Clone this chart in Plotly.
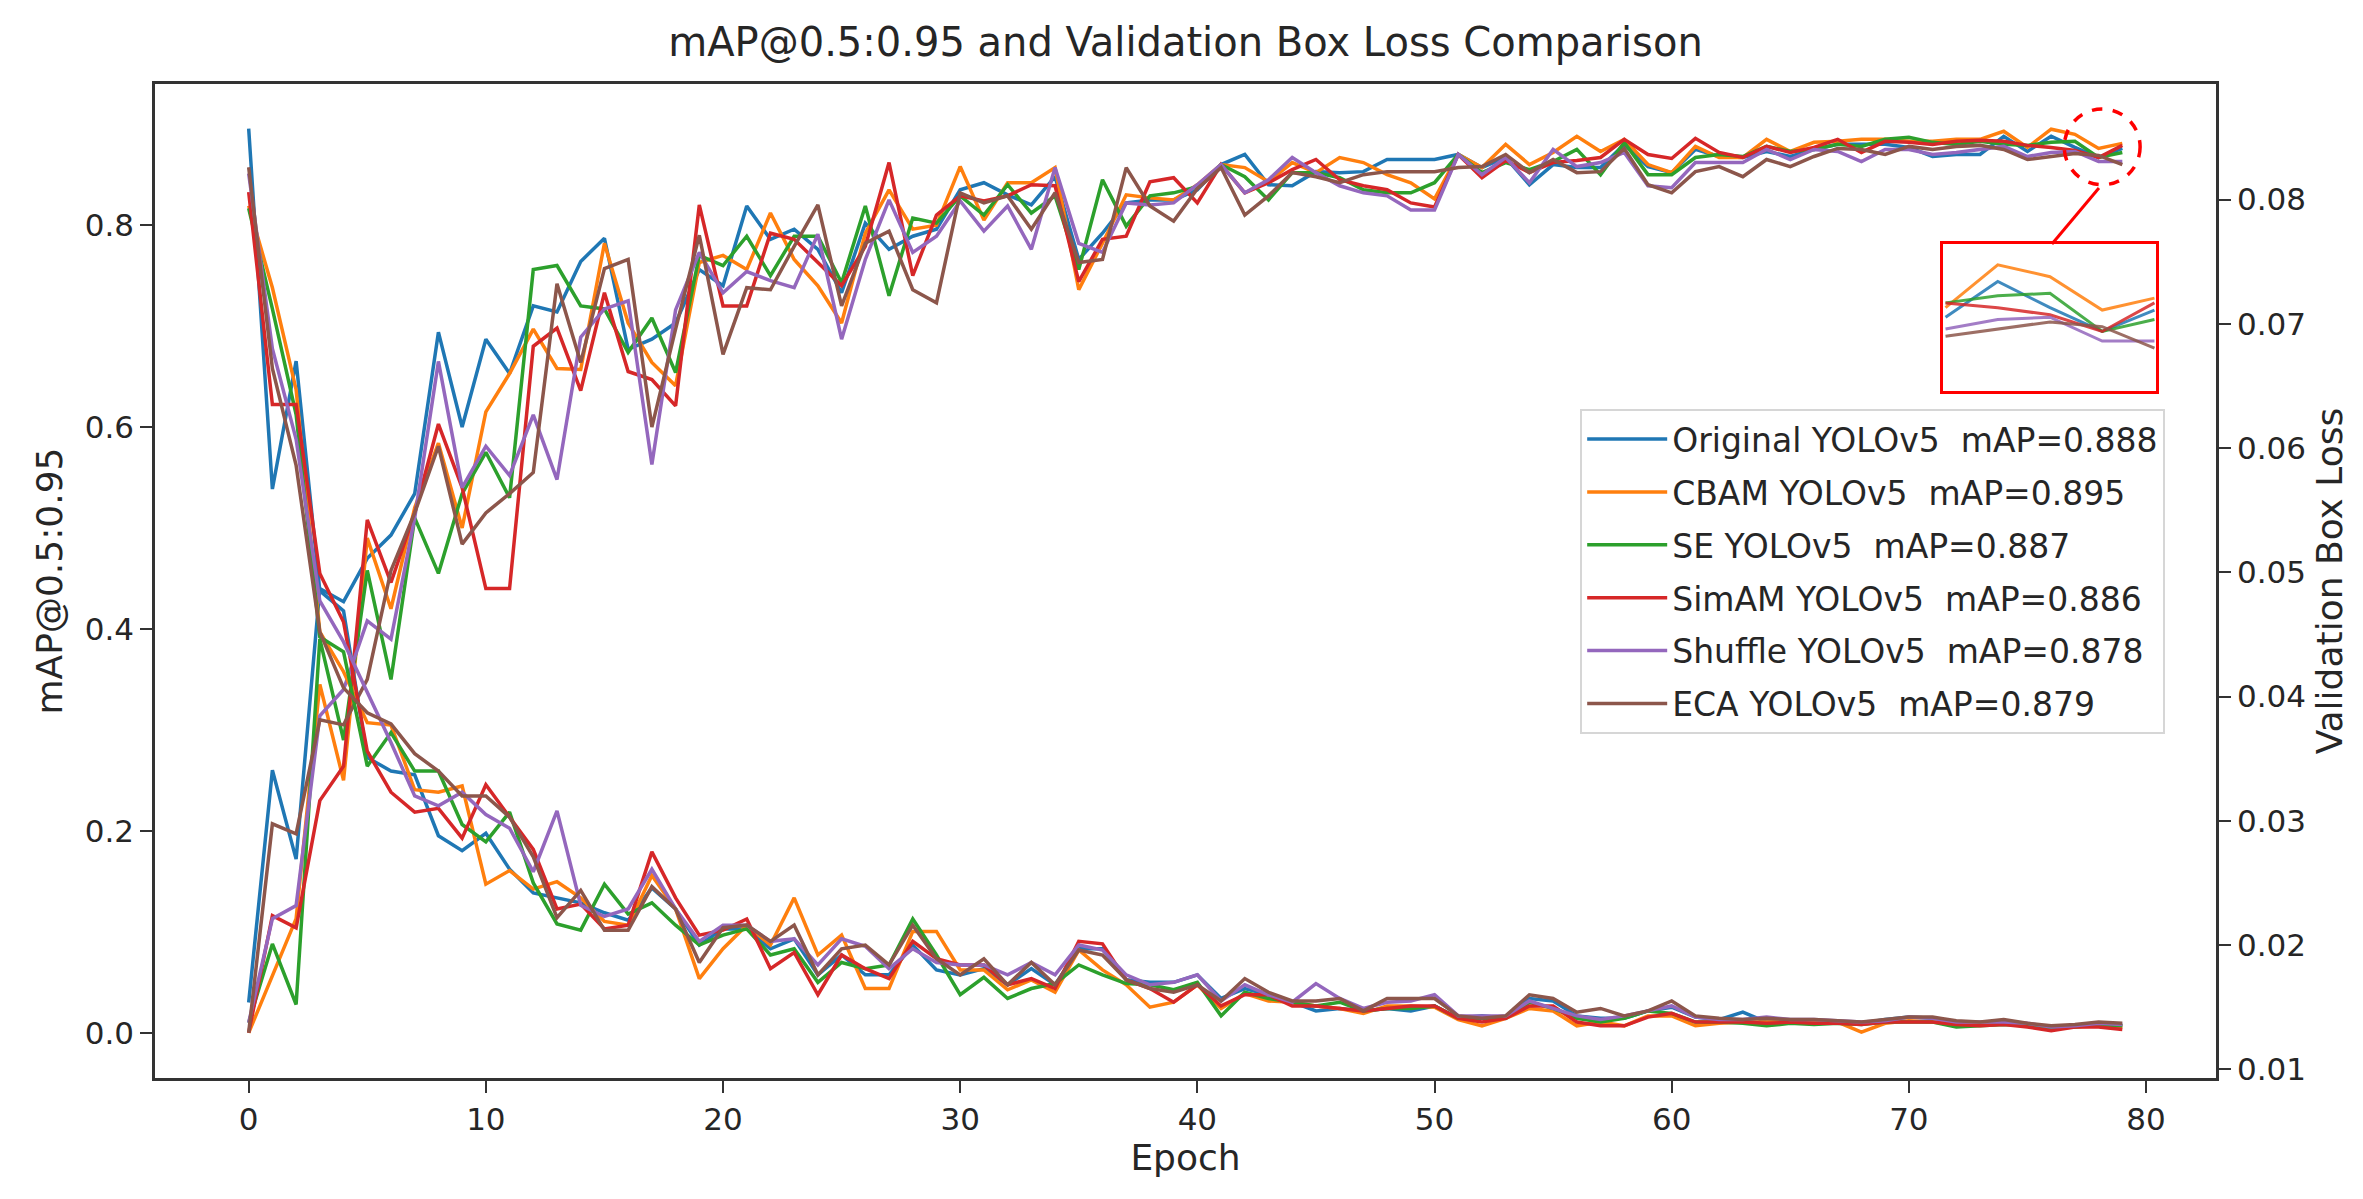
import plotly.graph_objects as go

EPOCHS = list(range(80))

MODEL_NAMES = ["Original YOLOv5", "CBAM YOLOv5", "SE YOLOv5", "SimAM YOLOv5", "Shuffle YOLOv5", "ECA YOLOv5"]
BEST_MAP = [0.888, 0.895, 0.887, 0.886, 0.878, 0.879]
COLORS = ["#1f77b4", "#ff7f0e", "#2ca02c", "#d62728", "#9467bd", "#8c564b"]

# mAP@0.5:0.95 per epoch (left axis)
MAP_ORIGINAL = [0.030, 0.260, 0.172, 0.440, 0.427, 0.470, 0.493, 0.534, 0.694, 0.600,
                0.687, 0.653, 0.720, 0.714, 0.764, 0.787, 0.677, 0.687, 0.703, 0.756,
                0.740, 0.819, 0.786, 0.796, 0.776, 0.733, 0.802, 0.776, 0.789, 0.796,
                0.835, 0.842, 0.830, 0.820, 0.848, 0.766, 0.792, 0.822, 0.825, 0.825,
                0.835, 0.860, 0.870, 0.840, 0.839, 0.853, 0.852, 0.853, 0.865, 0.865,
                0.865, 0.870, 0.857, 0.867, 0.840, 0.860, 0.857, 0.857, 0.880, 0.858,
                0.852, 0.875, 0.868, 0.867, 0.873, 0.868, 0.875, 0.880, 0.880, 0.880,
                0.877, 0.868, 0.870, 0.870, 0.888, 0.873, 0.888, 0.877, 0.867, 0.876]
MAP_CBAM = [0.000, 0.057, 0.113, 0.345, 0.250, 0.490, 0.420, 0.520, 0.584, 0.500,
            0.615, 0.653, 0.697, 0.658, 0.657, 0.782, 0.703, 0.664, 0.641, 0.763,
            0.770, 0.756, 0.812, 0.766, 0.740, 0.703, 0.792, 0.835, 0.796, 0.800,
            0.858, 0.805, 0.842, 0.842, 0.857, 0.736, 0.782, 0.830, 0.827, 0.825,
            0.840, 0.860, 0.857, 0.843, 0.862, 0.852, 0.867, 0.862, 0.850, 0.842,
            0.826, 0.870, 0.857, 0.880, 0.860, 0.872, 0.888, 0.873, 0.885, 0.860,
            0.852, 0.878, 0.867, 0.867, 0.885, 0.873, 0.882, 0.883, 0.885, 0.885,
            0.883, 0.883, 0.885, 0.885, 0.893, 0.877, 0.895, 0.890, 0.876, 0.881]
MAP_SE = [0.010, 0.088, 0.028, 0.390, 0.290, 0.458, 0.350, 0.510, 0.455, 0.534,
          0.575, 0.530, 0.756, 0.760, 0.720, 0.717, 0.674, 0.708, 0.654, 0.770,
          0.760, 0.789, 0.750, 0.789, 0.789, 0.743, 0.819, 0.730, 0.807, 0.802,
          0.829, 0.810, 0.840, 0.812, 0.829, 0.756, 0.845, 0.799, 0.829, 0.832,
          0.838, 0.860, 0.848, 0.825, 0.852, 0.852, 0.847, 0.835, 0.832, 0.832,
          0.842, 0.870, 0.852, 0.862, 0.855, 0.863, 0.875, 0.850, 0.882, 0.850,
          0.850, 0.867, 0.870, 0.868, 0.878, 0.873, 0.875, 0.880, 0.878, 0.885,
          0.887, 0.882, 0.880, 0.883, 0.880, 0.879, 0.882, 0.883, 0.867, 0.872]
MAP_SIMAM = [0.000, 0.116, 0.104, 0.230, 0.264, 0.508, 0.446, 0.515, 0.603, 0.540,
             0.440, 0.440, 0.680, 0.698, 0.636, 0.733, 0.655, 0.647, 0.621, 0.820,
             0.720, 0.720, 0.792, 0.786, 0.763, 0.740, 0.779, 0.862, 0.750, 0.810,
             0.829, 0.824, 0.829, 0.840, 0.839, 0.744, 0.786, 0.789, 0.843, 0.847,
             0.822, 0.860, 0.832, 0.842, 0.855, 0.865, 0.845, 0.839, 0.835, 0.822,
             0.818, 0.870, 0.847, 0.864, 0.852, 0.862, 0.864, 0.867, 0.885, 0.870,
             0.866, 0.886, 0.872, 0.867, 0.878, 0.872, 0.877, 0.885, 0.872, 0.883,
             0.882, 0.880, 0.883, 0.884, 0.883, 0.879, 0.877, 0.874, 0.867, 0.879]
MAP_SHUFFLE = [0.010, 0.113, 0.126, 0.314, 0.340, 0.408, 0.390, 0.510, 0.665, 0.540,
               0.581, 0.552, 0.612, 0.548, 0.689, 0.717, 0.725, 0.563, 0.716, 0.773,
               0.733, 0.754, 0.745, 0.738, 0.791, 0.687, 0.766, 0.825, 0.773, 0.789,
               0.824, 0.794, 0.819, 0.776, 0.857, 0.782, 0.773, 0.822, 0.820, 0.822,
               0.840, 0.860, 0.832, 0.845, 0.867, 0.852, 0.839, 0.832, 0.829, 0.815,
               0.815, 0.870, 0.850, 0.867, 0.842, 0.875, 0.858, 0.862, 0.872, 0.839,
               0.837, 0.862, 0.862, 0.862, 0.875, 0.865, 0.875, 0.873, 0.863, 0.875,
               0.875, 0.870, 0.872, 0.875, 0.878, 0.868, 0.872, 0.873, 0.863, 0.863]
MAP_ECA = [0.000, 0.207, 0.197, 0.310, 0.305, 0.350, 0.458, 0.515, 0.581, 0.484,
           0.515, 0.534, 0.555, 0.742, 0.664, 0.757, 0.766, 0.600, 0.697, 0.790,
           0.672, 0.738, 0.736, 0.779, 0.820, 0.720, 0.782, 0.794, 0.736, 0.723,
           0.832, 0.822, 0.829, 0.796, 0.832, 0.763, 0.766, 0.857, 0.819, 0.804,
           0.836, 0.857, 0.810, 0.829, 0.852, 0.848, 0.842, 0.850, 0.853, 0.853,
           0.853, 0.857, 0.858, 0.870, 0.852, 0.865, 0.852, 0.853, 0.876, 0.840,
           0.832, 0.853, 0.858, 0.848, 0.865, 0.858, 0.868, 0.876, 0.875, 0.870,
           0.878, 0.875, 0.878, 0.879, 0.875, 0.865, 0.868, 0.871, 0.869, 0.860]

# validation box loss per epoch (right axis)
LOSS_ORIGINAL = [0.0857, 0.0567, 0.0670, 0.0485, 0.0469, 0.0351, 0.0340, 0.0337, 0.0288, 0.0276,
                 0.0290, 0.0261, 0.0242, 0.0238, 0.0234, 0.0226, 0.0220, 0.0246, 0.0229, 0.0200,
                 0.0213, 0.0213, 0.0197, 0.0205, 0.0176, 0.0192, 0.0176, 0.0176, 0.0200, 0.0180,
                 0.0176, 0.0181, 0.0168, 0.0181, 0.0168, 0.0197, 0.0197, 0.0172, 0.0170, 0.0170,
                 0.0176, 0.0157, 0.0165, 0.0160, 0.0154, 0.0147, 0.0149, 0.0147, 0.0149, 0.0147,
                 0.0151, 0.0141, 0.0143, 0.0141, 0.0157, 0.0155, 0.0143, 0.0141, 0.0141, 0.0147,
                 0.0150, 0.0142, 0.0140, 0.0146, 0.0138, 0.0139, 0.0138, 0.0138, 0.0137, 0.0140,
                 0.0142, 0.0141, 0.0138, 0.0137, 0.0137, 0.0136, 0.0134, 0.0135, 0.0137, 0.0135]
LOSS_CBAM = [0.0795, 0.0729, 0.0647, 0.0452, 0.0420, 0.0379, 0.0377, 0.0325, 0.0323, 0.0328,
             0.0249, 0.0260, 0.0245, 0.0251, 0.0238, 0.0219, 0.0216, 0.0256, 0.0229, 0.0173,
             0.0197, 0.0216, 0.0200, 0.0238, 0.0192, 0.0208, 0.0165, 0.0165, 0.0211, 0.0211,
             0.0180, 0.0180, 0.0164, 0.0172, 0.0162, 0.0196, 0.0180, 0.0168, 0.0150, 0.0154,
             0.0168, 0.0149, 0.0161, 0.0155, 0.0154, 0.0151, 0.0149, 0.0145, 0.0151, 0.0151,
             0.0150, 0.0140, 0.0135, 0.0141, 0.0149, 0.0147, 0.0135, 0.0138, 0.0135, 0.0143,
             0.0143, 0.0135, 0.0137, 0.0138, 0.0138, 0.0138, 0.0138, 0.0138, 0.0130, 0.0137,
             0.0139, 0.0138, 0.0137, 0.0137, 0.0138, 0.0135, 0.0133, 0.0134, 0.0135, 0.0134]
LOSS_SE = [0.0793, 0.0712, 0.0627, 0.0448, 0.0436, 0.0344, 0.0371, 0.0340, 0.0340, 0.0297,
           0.0283, 0.0307, 0.0250, 0.0217, 0.0212, 0.0249, 0.0225, 0.0234, 0.0216, 0.0200,
           0.0208, 0.0213, 0.0192, 0.0197, 0.0170, 0.0186, 0.0181, 0.0184, 0.0221, 0.0192,
           0.0160, 0.0174, 0.0157, 0.0165, 0.0169, 0.0184, 0.0176, 0.0169, 0.0168, 0.0164,
           0.0170, 0.0143, 0.0162, 0.0157, 0.0154, 0.0151, 0.0154, 0.0147, 0.0149, 0.0149,
           0.0151, 0.0141, 0.0141, 0.0141, 0.0154, 0.0149, 0.0141, 0.0138, 0.0141, 0.0147,
           0.0145, 0.0138, 0.0138, 0.0137, 0.0135, 0.0137, 0.0136, 0.0137, 0.0136, 0.0138,
           0.0138, 0.0138, 0.0134, 0.0135, 0.0136, 0.0135, 0.0133, 0.0134, 0.0136, 0.0135]
LOSS_SIMAM = [0.0806, 0.0635, 0.0635, 0.0499, 0.0460, 0.0356, 0.0323, 0.0307, 0.0310, 0.0286,
              0.0329, 0.0303, 0.0277, 0.0229, 0.0233, 0.0213, 0.0216, 0.0275, 0.0238, 0.0208,
              0.0212, 0.0221, 0.0181, 0.0194, 0.0160, 0.0192, 0.0181, 0.0173, 0.0203, 0.0189,
              0.0184, 0.0184, 0.0168, 0.0173, 0.0165, 0.0203, 0.0201, 0.0172, 0.0165, 0.0154,
              0.0168, 0.0151, 0.0160, 0.0160, 0.0151, 0.0151, 0.0149, 0.0147, 0.0149, 0.0151,
              0.0151, 0.0141, 0.0138, 0.0141, 0.0151, 0.0151, 0.0138, 0.0135, 0.0135, 0.0142,
              0.0145, 0.0138, 0.0138, 0.0138, 0.0137, 0.0138, 0.0137, 0.0137, 0.0136, 0.0138,
              0.0138, 0.0138, 0.0136, 0.0135, 0.0136, 0.0134, 0.0131, 0.0134, 0.0134, 0.0132]
LOSS_SHUFFLE = [0.0821, 0.0680, 0.0607, 0.0477, 0.0444, 0.0403, 0.0363, 0.0320, 0.0312, 0.0323,
                0.0305, 0.0294, 0.0259, 0.0308, 0.0232, 0.0223, 0.0229, 0.0261, 0.0229, 0.0203,
                0.0216, 0.0216, 0.0203, 0.0205, 0.0184, 0.0205, 0.0199, 0.0181, 0.0197, 0.0186,
                0.0184, 0.0184, 0.0176, 0.0186, 0.0176, 0.0200, 0.0196, 0.0176, 0.0168, 0.0170,
                0.0176, 0.0155, 0.0168, 0.0160, 0.0154, 0.0169, 0.0157, 0.0149, 0.0154, 0.0155,
                0.0160, 0.0143, 0.0143, 0.0143, 0.0155, 0.0149, 0.0143, 0.0140, 0.0143, 0.0147,
                0.0151, 0.0142, 0.0140, 0.0140, 0.0142, 0.0140, 0.0140, 0.0139, 0.0138, 0.0139,
                0.0142, 0.0141, 0.0138, 0.0138, 0.0138, 0.0137, 0.0134, 0.0135, 0.0137, 0.0136]
LOSS_ECA = [0.0826, 0.0664, 0.0586, 0.0452, 0.0407, 0.0387, 0.0378, 0.0354, 0.0340, 0.0320,
            0.0320, 0.0303, 0.0271, 0.0222, 0.0244, 0.0212, 0.0212, 0.0247, 0.0229, 0.0186,
            0.0214, 0.0216, 0.0203, 0.0216, 0.0176, 0.0197, 0.0200, 0.0184, 0.0216, 0.0189,
            0.0176, 0.0189, 0.0168, 0.0186, 0.0168, 0.0196, 0.0192, 0.0172, 0.0165, 0.0162,
            0.0168, 0.0155, 0.0173, 0.0162, 0.0155, 0.0155, 0.0157, 0.0147, 0.0157, 0.0157,
            0.0157, 0.0143, 0.0141, 0.0143, 0.0160, 0.0157, 0.0146, 0.0149, 0.0143, 0.0147,
            0.0155, 0.0143, 0.0141, 0.0140, 0.0141, 0.0140, 0.0140, 0.0139, 0.0138, 0.0140,
            0.0142, 0.0142, 0.0139, 0.0138, 0.0140, 0.0137, 0.0135, 0.0136, 0.0138, 0.0137]

MAP_SERIES = [MAP_ORIGINAL, MAP_CBAM, MAP_SE, MAP_SIMAM, MAP_SHUFFLE, MAP_ECA]
LOSS_SERIES = [LOSS_ORIGINAL, LOSS_CBAM, LOSS_SE, LOSS_SIMAM, LOSS_SHUFFLE, LOSS_ECA]

ZOOM_START = 75  # first epoch shown in the inset

AXIS_COLOR = "#333333"
TEXT_COLOR = "#262626"

fig = go.Figure()

for name, best, color, m in zip(MODEL_NAMES, BEST_MAP, COLORS, MAP_SERIES):
    fig.add_trace(go.Scatter(
        x=EPOCHS, y=m, mode="lines", name=f"{name}\u00a0 mAP={best:.3f}",
        legendgroup=name, line=dict(color=color, width=3.5),
        xaxis="x", yaxis="y",
    ))

for name, color, loss in zip(MODEL_NAMES, COLORS, LOSS_SERIES):
    fig.add_trace(go.Scatter(
        x=EPOCHS, y=loss, mode="lines", name=name, legendgroup=name, showlegend=False,
        line=dict(color=color, width=3.5), xaxis="x", yaxis="y2",
    ))

# zoomed inset of the last epochs
for name, color, m in zip(MODEL_NAMES, COLORS, MAP_SERIES):
    fig.add_trace(go.Scatter(
        x=EPOCHS[ZOOM_START:], y=m[ZOOM_START:], mode="lines", legendgroup=name,
        showlegend=False, opacity=0.85, line=dict(color=color, width=3),
        xaxis="x3", yaxis="y3",
    ))

axis_common = dict(
    showgrid=False, zeroline=False, showline=True, linecolor=AXIS_COLOR, linewidth=2.5,
    ticks="outside", ticklen=12, tickwidth=2, tickcolor=AXIS_COLOR,
    tickfont=dict(size=31),
)

fig.update_layout(
    width=2363,
    height=1199,
    margin=dict(l=147, r=155, t=76, b=129),
    paper_bgcolor="white",
    plot_bgcolor="white",
    font=dict(family="DejaVu Sans", size=30, color=TEXT_COLOR),
    title=dict(
        text="mAP@0.5:0.95 and Validation Box Loss Comparison",
        x=0.5, xref="paper", xanchor="center",
        y=1 - 34 / 1199, yref="container", yanchor="middle",
        font=dict(size=40, color=TEXT_COLOR),
    ),
    xaxis=dict(
        range=[-3.95, 82.95], tick0=0, dtick=10, mirror=True,
        title=dict(text="Epoch", standoff=8), **axis_common,
    ),
    yaxis=dict(
        range=[-0.0448, 0.9398], tick0=0, dtick=0.2, tickformat=".1f", mirror=True,
        title=dict(text="mAP@0.5:0.95", standoff=12), **axis_common,
    ),
    yaxis2=dict(
        overlaying="y", side="right", anchor="x",
        range=[0.0093, 0.0893], tick0=0, dtick=0.01, tickformat=".2f",
        title=dict(text="Validation Box Loss", standoff=12), **axis_common,
    ),
    xaxis3=dict(
        domain=[0.8675, 0.9709], anchor="y3", range=[74.95, 79.03],
        showticklabels=False, ticks="", showgrid=False, zeroline=False,
        showline=True, mirror=True, linecolor="#ff0000", linewidth=3,
    ),
    yaxis3=dict(
        domain=[0.6911, 0.839], anchor="x3", range=[0.842, 0.9037],
        showticklabels=False, ticks="", showgrid=False, zeroline=False,
        showline=True, mirror=True, linecolor="#ff0000", linewidth=3,
    ),
    showlegend=True,
    legend=dict(
        x=0.6915, y=0.673, xanchor="left", yanchor="top",
        bgcolor="rgba(255,255,255,0.85)", bordercolor="#d6d6d6", borderwidth=2,
        font=dict(size=33, color=TEXT_COLOR), tracegroupgap=7, itemwidth=80,
    ),
)

# dashed circle marking the zoomed region and its connector to the inset
fig.add_shape(
    type="circle", xref="x", yref="y", x0=76.55, x1=79.75, y0=0.840, y1=0.915,
    line=dict(color="#ff0000", width=3.5, dash="dash"),
)
fig.add_shape(
    type="line", xref="paper", yref="paper", x0=0.9204, y0=0.839, x1=0.9432, y1=0.8954,
    line=dict(color="#ff0000", width=3),
)

fig.write_html("out.html")
